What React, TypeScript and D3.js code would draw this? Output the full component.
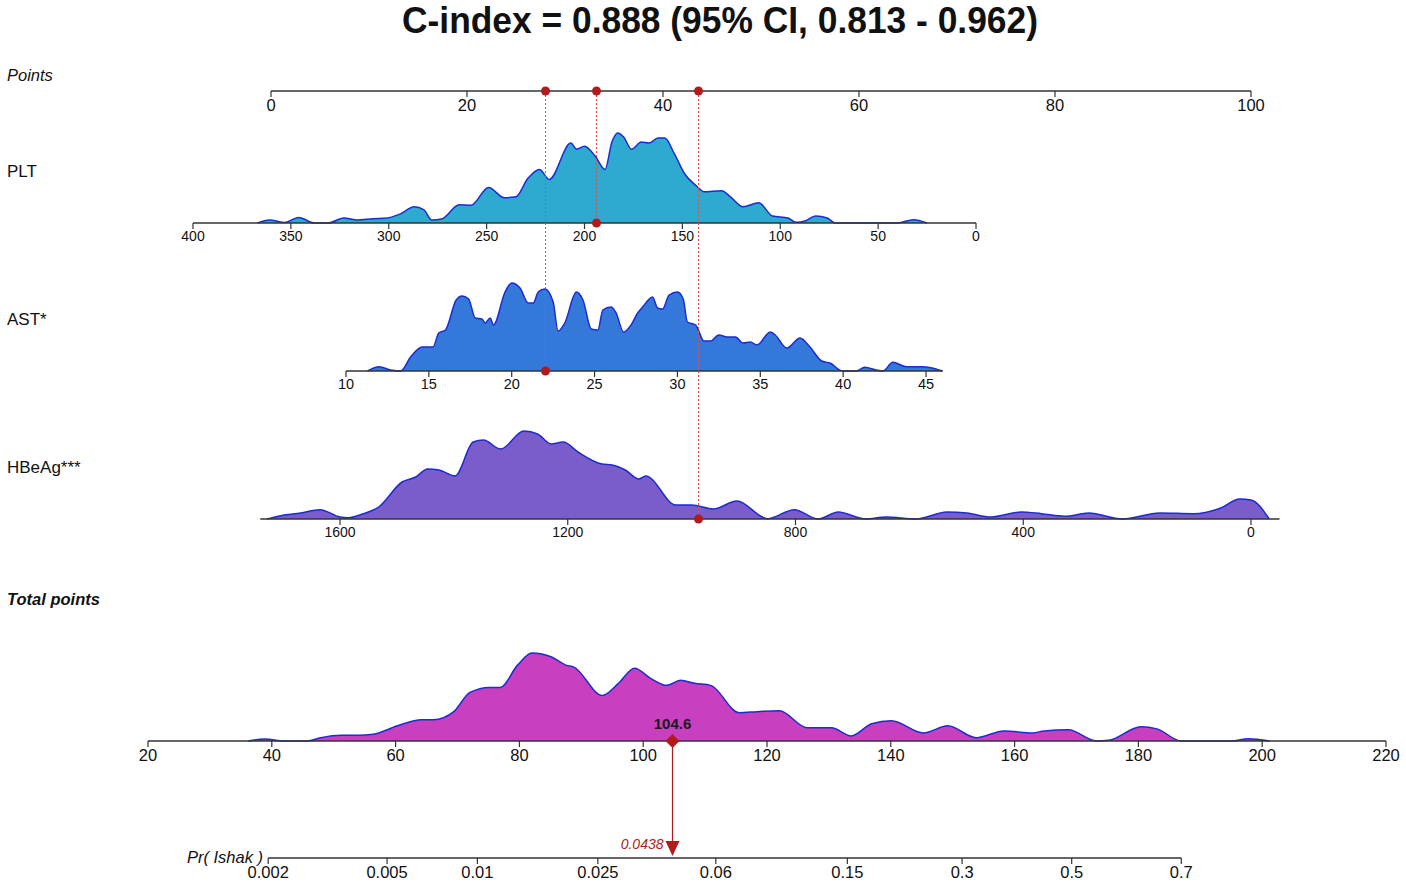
import React, { useEffect, useRef } from 'react';
import * as d3 from 'd3';

const title = 'C-index = 0.888 (95% CI, 0.813 - 0.962)';

const pointsTicks = [0, 20, 40, 60, 80, 100];
const pltTicks = [400, 350, 300, 250, 200, 150, 100, 50, 0];
const astTicks = [10, 15, 20, 25, 30, 35, 40, 45];
const hbeagTicks = [1600, 1200, 800, 400, 0];
const totalTicks = [20, 40, 60, 80, 100, 120, 140, 160, 180, 200, 220];
const prTicks = [0.002, 0.005, 0.01, 0.025, 0.06, 0.15, 0.3, 0.5, 0.7];

// variable value -> points
const pltValues = [400, 0];
const pltPoints = [-7.96, 71.94];
const astValues = [10, 45];
const astPoints = [7.65, 66.84];
const hbeagValues = [1600, 0];
const hbeagPoints = [7.04, 100];

// logistic link on total points
const intercept = -8.099;
const slope = 0.04786;

// the highlighted patient
const patientPlt = 194;
const patientAst = 22;
const patientHbeag = 972;
const patientTotal = 104.6;
const patientRisk = 0.0438;

// distributions: [value, density]
const pltDensity: [number, number][] = [
  [367, 0], [361, 3], [353, 0.5], [346, 5.5], [338, 0], [331, 0], [323, 5], [316, 3],
  [308, 4.3], [302, 4.6], [294, 9], [287, 16], [282, 13], [278, 3], [273, 4], [264, 18],
  [258, 17.5], [249, 35], [241, 25], [235, 26], [229, 44], [223, 53], [218, 43], [207, 79],
  [204, 73], [200, 76], [194.5, 66], [189.5, 53], [186, 80], [183, 89], [180, 85], [176, 73], [171, 80],
  [167, 79], [162.5, 84], [159, 84], [154, 68], [148.6, 48], [143, 37], [139, 31], [130, 32],
  [125, 25], [119, 16], [111, 20], [104, 7], [96, 5], [92, 0.7], [87, 2.3], [82, 7],
  [76, 5], [72, 0], [40, 0], [32, 3.3], [25, 0],
];

const astDensity: [number, number][] = [
  [11.3, 0], [12.0, 4.3], [12.7, 1], [13.3, 0], [13.9, 14], [14.6, 24], [15.25, 24], [15.6, 38],
  [16.0, 41], [16.65, 71], [17.0, 75], [17.4, 72], [17.8, 53], [18.2, 52], [18.4, 48], [18.7, 53],
  [18.9, 46], [19.6, 79], [20.0, 88], [20.5, 83], [21.0, 68], [21.3, 68], [21.6, 79], [22.0, 82],
  [22.5, 69], [22.8, 40], [23.2, 48], [23.9, 79], [24.3, 71], [24.8, 42], [25.2, 41], [25.5, 61],
  [26.0, 64], [26.3, 58], [26.75, 39], [27.2, 46], [27.6, 58], [27.9, 64], [28.5, 74], [28.8, 63],
  [29.1, 62], [29.5, 76], [30.0, 79], [30.35, 72], [30.6, 49], [31.1, 46], [31.6, 30], [32.0, 30],
  [32.5, 36], [33.0, 34], [33.5, 34], [33.95, 28], [34.4, 29], [34.8, 26], [35.6, 39], [35.9, 36],
  [36.6, 23], [37.4, 33], [38.0, 24], [38.7, 10], [39.2, 8], [39.95, 0], [40.8, 0], [41.3, 3.7],
  [42.0, 1], [42.4, 0], [43.0, 8.7], [43.8, 4.3], [44.7, 4.3], [45.3, 3.3], [46.0, 0],
];

const hbeagDensity: [number, number][] = [
  [1728, 0], [1704, 3.3], [1669, 6], [1635, 9.3], [1600, 2], [1585, 1.3], [1562, 4.7], [1532, 12],
  [1491, 37], [1467, 42], [1446, 50], [1426, 49], [1398, 43], [1366, 77], [1348, 79], [1318, 70],
  [1277, 88], [1253, 85], [1229, 75], [1208, 77], [1182, 67], [1140, 55], [1122, 54], [1099, 49],
  [1075, 40], [1063, 43], [1010, 14], [982, 14], [944, 10], [903, 18], [849, 0.3], [802, 9.3],
  [760, 0], [725, 7], [677, 0], [641, 2], [588, 0], [534, 7], [499, 6], [457, 2],
  [404, 7], [368, 5.3], [327, 2.7], [285, 6], [226, 0], [160, 6], [101, 5.3], [53, 11],
  [20, 20], [0, 19], [-32, 0],
];

const totalDensity: [number, number][] = [
  [36.2, 0], [38.8, 2], [42, 0], [45.7, 0], [47.9, 3.3], [51.2, 5.7], [53.8, 5.7], [56.4, 6.7],
  [60.3, 15], [64.2, 21], [66.1, 21], [69.4, 29], [72, 48], [75.2, 53], [76.9, 53], [79.7, 75],
  [82, 87], [85.2, 83], [87.5, 75], [88.8, 73], [93.4, 45], [96, 57], [98.6, 72], [101.2, 62],
  [103.8, 55], [106, 60], [108.3, 57], [110.9, 55], [115.5, 28], [118.4, 29], [122, 30], [126.5, 13],
  [130.4, 13], [133.6, 5], [136.9, 17], [140.1, 20], [145.3, 8], [149.2, 15], [153.8, 3.3], [158.3, 10],
  [162.9, 8], [164.8, 10], [168.7, 11], [173.2, 0], [175.2, 0.7], [180.4, 14], [183, 12], [186.9, 0],
  [195.3, 0], [197.7, 2.3], [201.2, 0],
];

const FONT = '"Liberation Sans", Arial, Helvetica, sans-serif';
const RED = '#b01c1c';
const DASH = '#e0504a';
const OUTLINE = '#1c2bd3';

const logit = (p: number) => Math.log(p / (1 - p));
const crisp = (v: number) => Math.round(v) + 0.5;

const App: React.FC = () => {
  const svgRef = useRef<SVGSVGElement>(null);

  useEffect(() => {
    if (!svgRef.current) return;
    const svg = d3.select(svgRef.current);
    svg.selectAll('*').remove();

    const pointsX = d3.scaleLinear().domain([0, 100]).range([271, 1251]);
    const totalX = d3.scaleLinear().domain([20, 220]).range([148, 1386]);

    const pltToPts = d3.scaleLinear().domain(pltValues).range(pltPoints);
    const astToPts = d3.scaleLinear().domain(astValues).range(astPoints);
    const hbeagToPts = d3.scaleLinear().domain(hbeagValues).range(hbeagPoints);

    const pltX = (v: number) => pointsX(pltToPts(v));
    const astX = (v: number) => pointsX(astToPts(v));
    const hbeagX = (v: number) => pointsX(hbeagToPts(v));
    const prX = (p: number) => totalX((logit(p) - intercept) / slope);

    const rows = {
      points: 91,
      plt: 223,
      ast: 371,
      hbeag: 519,
      total: 741,
      pr: 858,
    };

    // Title
    svg.append('text')
      .attr('x', 720)
      .attr('y', 33)
      .attr('text-anchor', 'middle')
      .attr('font-family', FONT)
      .attr('font-weight', 'bold')
      .attr('font-size', 37)
      .attr('textLength', 636)
      .attr('lengthAdjust', 'spacingAndGlyphs')
      .attr('fill', '#111')
      .text(title);

    // Row labels
    const label = (txt: string, x: number, y: number, size: number, italic: boolean, bold: boolean, anchor = 'start') =>
      svg.append('text')
        .attr('x', x)
        .attr('y', y)
        .attr('text-anchor', anchor)
        .attr('font-family', FONT)
        .attr('font-size', size)
        .attr('font-style', italic ? 'italic' : 'normal')
        .attr('font-weight', bold ? 'bold' : 'normal')
        .attr('fill', '#111')
        .text(txt);

    label('Points', 7, 81, 16.5, true, false);
    label('PLT', 7, 177, 17, false, false);
    label('AST*', 7, 325, 17, false, false);
    label('HBeAg***', 7, 473, 17, false, false);
    label('Total points', 7, 605, 16.5, true, true);
    label('Pr( Ishak )', 263, 863, 16.5, true, false, 'end');

    // Densities
    const density = (data: [number, number][], x: (v: number) => number, y0: number, fill: string, height: number) => {
      const h = d3.scaleLinear().domain([0, d3.max(data, d => d[1]) as number]).range([y0, y0 - height]);
      const area = d3.area<[number, number]>()
        .x(d => x(d[0]))
        .y0(y0)
        .y1(d => h(d[1]))
        .curve(d3.curveMonotoneX);
      const line = d3.line<[number, number]>()
        .x(d => x(d[0]))
        .y(d => h(d[1]))
        .curve(d3.curveMonotoneX);
      svg.append('path').datum(data).attr('fill', fill).attr('d', area);
      svg.append('path').datum(data)
        .attr('fill', 'none')
        .attr('stroke', OUTLINE)
        .attr('stroke-width', 1.5)
        .attr('d', line);
    };

    density(pltDensity, pltX, rows.plt, '#2eaad0', 90);
    density(astDensity, astX, rows.ast, '#3479da', 88);
    density(hbeagDensity, hbeagX, rows.hbeag, '#7b5ccb', 88);
    density(totalDensity, totalX, rows.total, '#c840bf', 88);

    // Axes
    const axis = (
      ticks: number[],
      x: (v: number) => number,
      y: number,
      extent: [number, number],
      size: number,
      fmt: (v: number) => string = d => String(d),
    ) => {
      const g = svg.append('g');
      g.append('line')
        .attr('x1', x(extent[0]))
        .attr('x2', x(extent[1]))
        .attr('y1', y)
        .attr('y2', y)
        .attr('stroke', '#333')
        .attr('stroke-width', 1.5);
      const t = g.selectAll('g.tick').data(ticks).enter().append('g')
        .attr('transform', d => `translate(${x(d)},${y})`);
      t.append('line').attr('y1', 0).attr('y2', 6).attr('stroke', '#333').attr('stroke-width', 1.2);
      t.append('text')
        .attr('y', 7)
        .attr('dy', '0.76em')
        .attr('text-anchor', 'middle')
        .attr('font-family', FONT)
        .attr('font-size', size)
        .attr('fill', '#111')
        .text(fmt);
    };

    axis(pointsTicks, pointsX, rows.points, [0, 100], 16.5);
    axis(pltTicks, pltX, rows.plt, [400, 0], 14);
    axis(astTicks, astX, rows.ast, [10, 46], 14.5);
    axis(hbeagTicks, hbeagX, rows.hbeag, [1740, -50], 14);
    axis(totalTicks, totalX, rows.total, [20, 220], 16.5);
    axis(prTicks, prX, rows.pr, [0.002, 0.7], 16.5);

    // Guide lines from each variable to the points scale
    const guides: [number, number][] = [
      [pltX(patientPlt), rows.plt],
      [astX(patientAst), rows.ast],
      [hbeagX(patientHbeag), rows.hbeag],
    ];
    guides.forEach(([gx, gy]) => {
      svg.append('line')
        .attr('x1', crisp(gx)).attr('x2', crisp(gx))
        .attr('y1', rows.points).attr('y2', gy)
        .attr('stroke', DASH)
        .attr('stroke-width', 1)
        .attr('stroke-dasharray', '2,2');
    });
    guides.forEach(([gx, gy]) => {
      svg.append('circle').attr('cx', crisp(gx)).attr('cy', rows.points).attr('r', 4.5).attr('fill', RED);
      svg.append('circle').attr('cx', crisp(gx)).attr('cy', gy).attr('r', 4.5).attr('fill', RED);
    });

    // Total points -> probability
    const tx = crisp(totalX(patientTotal));
    const triTop = rows.pr - 17;
    svg.append('line')
      .attr('x1', tx).attr('x2', tx)
      .attr('y1', rows.total).attr('y2', triTop)
      .attr('stroke', RED)
      .attr('stroke-width', 1.2);
    svg.append('path')
      .attr('d', `M${tx},${rows.total - 7} L${tx + 7},${rows.total} L${tx},${rows.total + 7} L${tx - 7},${rows.total} Z`)
      .attr('fill', RED);
    svg.append('path')
      .attr('d', `M${tx - 7},${triTop} L${tx + 7},${triTop} L${tx},${rows.pr - 2} Z`)
      .attr('fill', RED);
    svg.append('text')
      .attr('x', tx)
      .attr('y', rows.total - 12)
      .attr('text-anchor', 'middle')
      .attr('font-family', FONT)
      .attr('font-size', 15)
      .attr('font-weight', 'bold')
      .attr('fill', '#1a1a1a')
      .text(patientTotal.toFixed(1));
    svg.append('text')
      .attr('x', tx - 9)
      .attr('y', triTop + 8)
      .attr('text-anchor', 'end')
      .attr('font-family', FONT)
      .attr('font-size', 14)
      .attr('font-style', 'italic')
      .attr('fill', RED)
      .text(String(patientRisk));
  }, []);

  return (
    <svg
      ref={svgRef}
      width={1406}
      height={886}
      style={{ position: 'absolute', left: 0, top: 0, background: '#fff', display: 'block' }}
    />
  );
};

export default App;
